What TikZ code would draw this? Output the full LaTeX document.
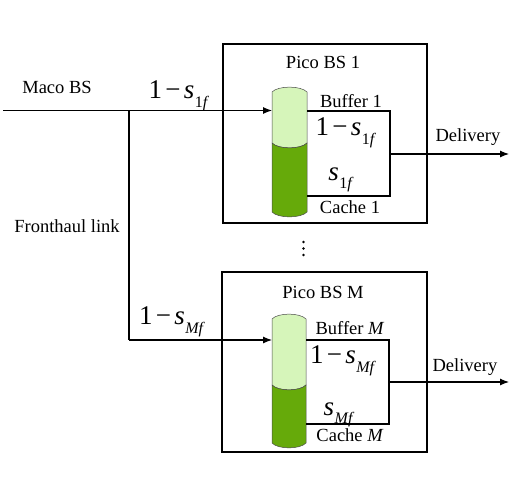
\documentclass[tikz,border=0pt]{standalone}
\usepackage{fontspec}
\setmainfont{Liberation Serif}
\usetikzlibrary{arrows.meta}
\definecolor{lightg}{HTML}{D6F5BA}
\definecolor{darkg}{HTML}{66AA0A}
\newcommand{\onem}[1]{1\kern0.12em−\kern0.12em\textit{s}\kern0.02em\raisebox{-0.32em}{\fontsize{16}{16}\selectfont #1}}
\newcommand{\sonly}[1]{\textit{s}\kern0.02em\raisebox{-0.32em}{\fontsize{16}{16}\selectfont #1}}
\begin{document}
\begin{tikzpicture}[x=1pt,y=-1pt,
  txt/.style={inner sep=0pt,font=\fontsize{18.5}{21}\selectfont},
  mth/.style={inner sep=0pt,font=\fontsize{27}{30}\selectfont},
  ln/.style={line width=1.1pt},
  arr/.style={line width=1.1pt,-{Latex[length=9pt,width=7pt]}},
  bx/.style={draw,line width=1.1pt,inner sep=0pt}]
\useasboundingbox (0,0) rectangle (512,485);
% boxes
\node[bx,minimum width=204pt,minimum height=179pt] (box1) at (325,133.5) {};
\node[bx,minimum width=205pt,minimum height=180pt] (boxM) at (324.5,362) {};
% cylinders
\newcommand{\cyl}[5]{%
  \fill[lightg,draw=black!70,line width=0.5pt] (#1,#3) .. controls (#1+6,#3-6.5) and (#2-6,#3-6.5) .. (#2,#3) -- (#2,#4) .. controls (#2-6,#4+6.5) and (#1+6,#4+6.5) .. (#1,#4) -- cycle;
  \fill[darkg,draw=black!70,line width=0.5pt] (#1,#4) .. controls (#1+6,#4+6.5) and (#2-6,#4+6.5) .. (#2,#4) -- (#2,#5) .. controls (#2-6,#5+6.5) and (#1+6,#5+6.5) .. (#1,#5) -- cycle;}
\cyl{272}{307}{92}{143}{212}
\cyl{272}{306}{319}{385}{443}
\coordinate (c1in) at (272,110.5);
\coordinate (cMin) at (272,340);
\coordinate (src) at (3,110.5);
\coordinate (br) at (129,110.5);
\coordinate (brM) at (129,340);
% feeder lines
\draw[arr] (src) -- (c1in);
\draw[ln] (br) -- (brM);
\draw[arr] (brM) -- (cMin);
% buffer/cache loops
\coordinate (b1a) at (307,111);
\coordinate (b1b) at (390,111);
\coordinate (b1c) at (390,196);
\coordinate (b1d) at (307,196);
\draw[ln] (b1a) -- (b1b) -- (b1c) -- (b1d);
\coordinate (d1s) at (390,154);
\coordinate (d1e) at (509,154);
\draw[arr] (d1s) -- (d1e);
\coordinate (bMa) at (306,340);
\coordinate (bMb) at (389,340);
\coordinate (bMc) at (389,424);
\coordinate (bMd) at (306,424);
\draw[ln] (bMa) -- (bMb) -- (bMc) -- (bMd);
\coordinate (dMs) at (389,382);
\coordinate (dMe) at (509,382);
\draw[arr] (dMs) -- (dMe);
% labels
\node[txt] (maco) at (57,87) {Maco BS};
\node[mth] (l1) at (179,96) {\onem{1\textit{f}}};
\node[txt] (fh) at (67,226) {Fronthaul link};
\node[mth] (lM) at (172,322) {\onem{\textit{Mf}}};
\node[txt] (p1) at (323,62) {Pico BS 1};
\node[txt] (buf1) at (351,101) {Buffer 1};
\node[mth] (in1) at (346,133) {\onem{1\textit{f}}};
\node[mth] (s1) at (341,180) {\sonly{1\textit{f}}};
\node[txt] (ca1) at (350,207) {Cache 1};
\node[txt] (del1) at (468,137) {Delivery};
\node[txt] (pM) at (323,292) {Pico BS M};
\node[txt] (bufM) at (350,328) {Buffer \textit{M}};
\node[mth] (inM) at (343,361) {\onem{\textit{Mf}}};
\node[mth] (sM) at (339,415) {\sonly{\textit{Mf}}};
\node[txt] (caM) at (350,435) {Cache \textit{M}};
\node[txt] (delM) at (465,367) {Delivery};
% vertical dots
\foreach \yy/\nm in {242/da,248.5/db,255/dc} \fill (303.5,\yy) coordinate (\nm) circle (1.4pt);
\end{tikzpicture}
\end{document}
